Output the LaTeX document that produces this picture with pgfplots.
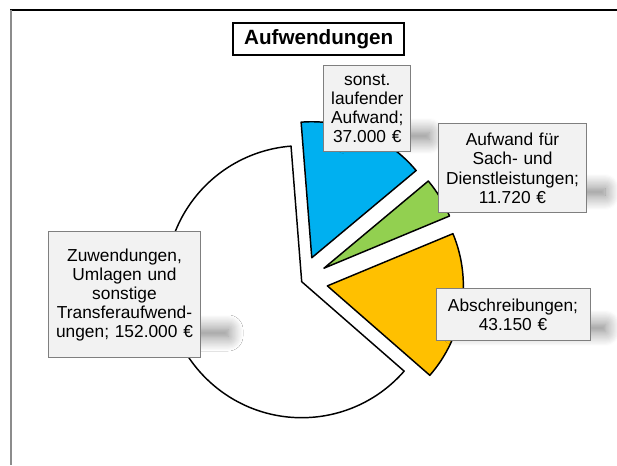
\documentclass[border=0pt]{standalone}
\usepackage{fontspec}
\setmainfont{Liberation Sans}
\usepackage{pgfplots}
\usepackage{pgfplotstable}
\pgfplotsset{compat=1.18}
\usetikzlibrary{shadows.blur}
\definecolor{sliceA}{HTML}{00B0F0}
\definecolor{sliceB}{HTML}{92D050}
\definecolor{sliceC}{HTML}{FFC000}
\definecolor{boxfill}{HTML}{F2F2F2}
\definecolor{boxline}{HTML}{7F7F7F}
\definecolor{frameline}{HTML}{8C8C8C}

% Aufwendungen in EUR, explode distance in px
\pgfplotstableread{
value explode
37000 26
11720 26
43150 26
152000 0
}\aufw

\tikzset{
  lbl/.style 2 args={draw=boxline, fill=boxfill, line width=0.75pt,
    inner sep=0pt, text width=#1, minimum width=#1, minimum height=#2,
    align=center, font=\fontsize{13}{14.3}\selectfont},
  shd/.style={inner sep=0pt, minimum width=#1, minimum height=5pt,
    blur shadow={shadow xshift=0pt, shadow yshift=0pt,
      shadow blur radius=11pt, shadow blur steps=14, shadow opacity=52}},
}

\begin{document}
\begin{tikzpicture}
\pgfplotstablegetelem{0}{value}\of\aufw \let\vA\pgfplotsretval
\pgfplotstablegetelem{1}{value}\of\aufw \let\vB\pgfplotsretval
\pgfplotstablegetelem{2}{value}\of\aufw \let\vC\pgfplotsretval
\pgfplotstablegetelem{3}{value}\of\aufw \let\vD\pgfplotsretval
\pgfplotstablegetelem{0}{explode}\of\aufw \let\xA\pgfplotsretval
\pgfplotstablegetelem{1}{explode}\of\aufw \let\xB\pgfplotsretval
\pgfplotstablegetelem{2}{explode}\of\aufw \let\xC\pgfplotsretval
\pgfplotstablegetelem{3}{explode}\of\aufw \let\xD\pgfplotsretval
\pgfkeys{/pgf/fpu=true,/pgf/fpu/output format=fixed}
\pgfmathsetmacro\tot{\vA+\vB+\vC+\vD}
\pgfmathsetmacro\sA{94.5}
\pgfmathsetmacro\eA{\sA-360*\vA/\tot}
\pgfmathsetmacro\eB{\eA-360*\vB/\tot}
\pgfmathsetmacro\eC{\eB-360*\vC/\tot}
\pgfmathsetmacro\eD{\eC-360*\vD/\tot}
\pgfkeys{/pgf/fpu=false}
\def\cx{301.7}
\def\cy{183.3}
\def\rad{102pt}
\begin{axis}[
  scale only axis,
  width=462.75pt, height=348.75pt,
  xmin=0, xmax=617, ymin=0, ymax=465,
  hide axis, clip=false,
]
% frame
\draw[black, line width=0.9pt] (axis cs:10.4,455) -- (axis cs:617,455);
\draw[frameline, line width=1.6pt] (axis cs:11,455.4) -- (axis cs:11,0);
% slices
\filldraw[fill=sliceA, line width=1.1pt, line join=round]
  (axis cs:{\cx+\xA*cos((\sA+\eA)/2)},{\cy+\xA*sin((\sA+\eA)/2)})
  -- ++(\sA:\rad) arc[start angle=\sA, end angle=\eA, radius=\rad] -- cycle;
\filldraw[fill=sliceB, line width=1.1pt, line join=round]
  (axis cs:{\cx+\xB*cos((\eA+\eB)/2)},{\cy+\xB*sin((\eA+\eB)/2)})
  -- ++(\eA:\rad) arc[start angle=\eA, end angle=\eB, radius=\rad] -- cycle;
\filldraw[fill=sliceC, line width=1.1pt, line join=round]
  (axis cs:{\cx+\xC*cos((\eB+\eC)/2)},{\cy+\xC*sin((\eB+\eC)/2)})
  -- ++(\eB:\rad) arc[start angle=\eB, end angle=\eC, radius=\rad] -- cycle;
\filldraw[fill=white, line width=1.1pt, line join=round]
  (axis cs:{\cx+\xD*cos((\eC+\eD)/2)},{\cy+\xD*sin((\eC+\eD)/2)})
  -- ++(\eC:\rad) arc[start angle=\eC, end angle=\eD, radius=\rad] -- cycle;
% shadows of the labels
\node[shd=62pt] at (axis cs:388,329) {};
\node[shd=108pt] at (axis cs:533,273) {};
\node[shd=112pt] at (axis cs:531,137) {};
\node[shd=110pt] at (axis cs:155,132) {};
% labels
\node[lbl={65pt}{64.3pt}] at (axis cs:367.3,356.2)
  {sonst.\\laufender\\Aufwand;\\37.000 €};
\node[lbl={111.3pt}{66.5pt}] at (axis cs:512.5,296.7)
  {Aufwand für\\Sach- und\\Dienstleistungen;\\11.720 €};
\node[lbl={115.5pt}{39.3pt}] at (axis cs:513,150.5)
  {Abschreibungen;\\43.150 €};
\node[lbl={114.3pt}{94.5pt}] at (axis cs:124.5,170.3)
  {Zuwendungen,\\Umlagen und\\sonstige\\Transferaufwend-\\ungen; 152.000 €};
% title
\node[draw=black, line width=1.5pt, fill=white, inner sep=0pt,
  minimum width=128pt, minimum height=24.2pt,
  font=\fontsize{15.5}{18}\selectfont\bfseries] at (axis cs:318.7,426.2) {Aufwendungen};
\end{axis}
\pgfresetboundingbox
\path[use as bounding box] (current axis.south west) rectangle (current axis.north east);
\end{tikzpicture}
\end{document}
